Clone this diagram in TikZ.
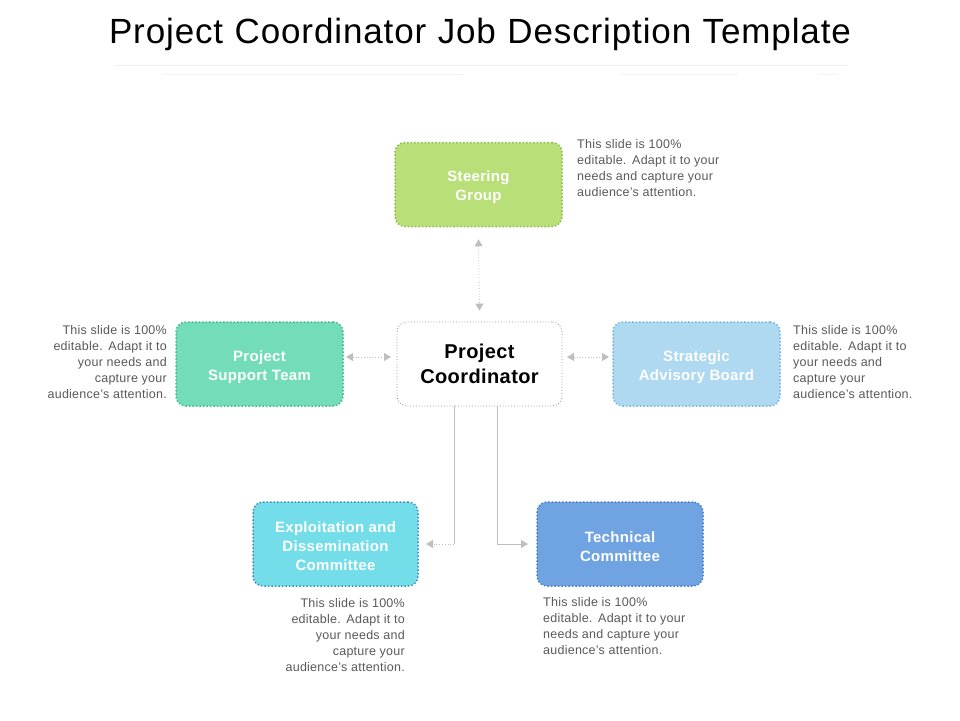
\documentclass[tikz,border=0pt]{standalone}
\usepackage{fontspec}
\setmainfont{Liberation Sans}
\usetikzlibrary{arrows.meta}
\definecolor{sgfill}{HTML}{B8DF78}\definecolor{sgline}{HTML}{8DBB4E}
\definecolor{ptfill}{HTML}{72DDB8}\definecolor{ptline}{HTML}{43B68E}
\definecolor{sbfill}{HTML}{AED9F1}\definecolor{sbline}{HTML}{6FB6E2}
\definecolor{edfill}{HTML}{73DEEA}\definecolor{edline}{HTML}{3F8CB6}
\definecolor{tcfill}{HTML}{6FA3E2}\definecolor{tcline}{HTML}{4A7DC8}
\definecolor{pcline}{HTML}{8C8C8C}
\definecolor{txtgray}{HTML}{595959}
\definecolor{conn}{HTML}{BFBFBF}
\definecolor{rule}{HTML}{EEEEEE}
\newcommand\lowr{\rule{0pt}{17pt}}
\tikzset{
  rolebox/.style={dotted, line width=1.5pt, rounded corners=10pt, minimum width=167pt, minimum height=84pt, align=center, text=white, font=\fontsize{15}{19}\selectfont\bfseries\addfontfeature{LetterSpace=2}, inner sep=0pt},
  note/.style={text=txtgray, font=\fontsize{12.5}{16}\selectfont\addfontfeature{LetterSpace=2}, inner sep=0pt},
  link/.style={draw=conn, line width=0.8pt, dotted},
  solidlink/.style={draw=conn, line width=0.8pt},
  tip/.style={-{Triangle[length=7pt,width=8pt,fill=conn]}},
  tips/.style={{Triangle[length=7pt,width=8pt,fill=conn]}-{Triangle[length=7pt,width=8pt,fill=conn]}}
}
\begin{document}
\begin{tikzpicture}[x=1pt,y=-1pt]
\useasboundingbox (0,0) rectangle (960,720);
\node[font=\fontsize{35}{38}\selectfont\addfontfeature{LetterSpace=2.5}, anchor=base, inner sep=0pt] (title) at (480,43) {\spaceskip=11.5pt Project Coordinator Job Description Template};
\draw[rule, line width=0.8pt] (115,65) -- (848,65);
\draw[rule!70, line width=0.8pt] (162,74) -- (463,74) (621,74) -- (738,74) (818,74) -- (838,74);

\node[rolebox, fill=sgfill, draw=sgline] (sg) at (478.5,184.5) {\lowr Steering\\Group};
\node[rolebox, fill=ptfill, draw=ptline] (pt) at (259.5,364) {\lowr Project\\Support Team};
\node[rolebox, fill=white, draw=pcline, line width=0.8pt, minimum width=165pt, text=black, font=\fontsize{20}{25}\selectfont\bfseries\addfontfeature{LetterSpace=2}] (pc) at (479.5,364) {Project\\Coordinator};
\node[rolebox, fill=sbfill, draw=sbline] (sb) at (696.5,364) {\lowr Strategic\\Advisory Board};
\node[rolebox, fill=edfill, draw=edline, minimum width=165pt] (ed) at (335.5,544) {\rule{0pt}{15pt}Exploitation and\\Dissemination\\Committee};
\node[rolebox, fill=tcfill, draw=tcline, minimum width=166pt] (tc) at (620,544) {\lowr Technical\\Committee};

\coordinate (sgA) at ([yshift=-12pt]sg.south);
\coordinate (pcA) at ([yshift=11pt]pc.north);
\draw[link, tips] (sgA) -- (pcA);
\coordinate (ptA) at (346,357);
\coordinate (pcL) at (391,357);
\draw[link, tips] (ptA) -- (pcL);
\coordinate (pcR) at (567,357);
\coordinate (sbA) at (609,357);
\draw[link, tips] (pcR) -- (sbA);
\coordinate (pcB1) at (454,406);
\coordinate (bend1) at (454,544);
\coordinate (edA) at (426,544);
\draw[solidlink] (pcB1) -- (bend1);
\draw[link, tip] (bend1) -- (edA);
\coordinate (pcB2) at (497,406);
\coordinate (bend2) at (497,544);
\coordinate (tcA) at (528,544);
\draw[solidlink] (pcB2) -- (bend2);
\draw[solidlink, tip] (bend2) -- (tcA);

\node[note, anchor=north west, align=left] (n1) at (577,139) {This slide is 100\%\\editable.\kern2pt\ Adapt it to your\\needs and capture your\\audience’s attention.};
\node[note, anchor=north east, align=right] (n2) at (167,325) {This slide is 100\%\\editable.\kern2pt\ Adapt it to\\your needs and\\capture your\\audience’s attention.};
\node[note, anchor=north west, align=left] (n3) at (793,325) {This slide is 100\%\\editable.\kern2pt\ Adapt it to\\your needs and\\capture your\\audience’s attention.};
\node[note, anchor=north east, align=right] (n4) at (405,598) {This slide is 100\%\\editable.\kern2pt\ Adapt it to\\your needs and\\capture your\\audience’s attention.};
\node[note, anchor=north west, align=left] (n5) at (543,597) {This slide is 100\%\\editable.\kern2pt\ Adapt it to your\\needs and capture your\\audience’s attention.};
\end{tikzpicture}
\end{document}
